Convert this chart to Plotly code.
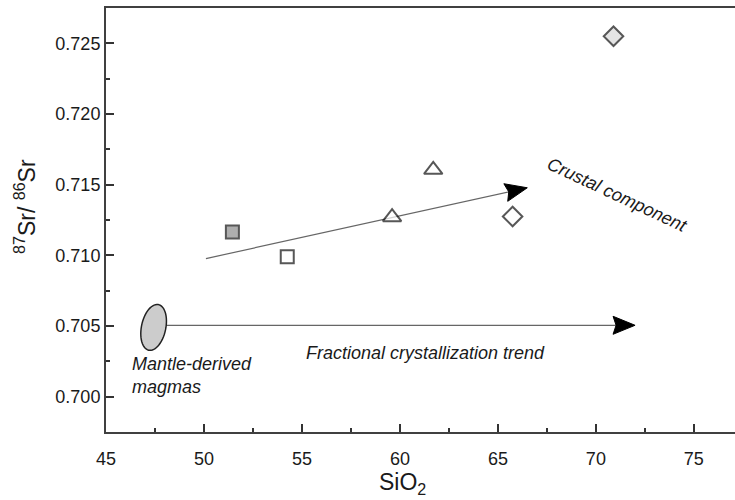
import plotly.graph_objects as go
import numpy as np

# ---- data ----
sio2 = [70.9, 51.45, 54.25, 59.6, 61.7, 65.75]
sr_ratio = [0.72550, 0.71165, 0.70990, 0.71270, 0.71605, 0.71275]
symbols = ["diamond", "square", "square", "triangle-up", "triangle-up", "diamond"]
fills = ["#d9d9d9", "#8c8c8c", "#ffffff", "#ffffff", "#ffffff", "#ffffff"]
sizes = [15, 13, 13, 16, 16, 15]

crust_arrow_x = [50.1, 66.5]
crust_arrow_y = [0.70977, 0.71478]
fc_arrow_x = [48.1, 72.0]
fc_arrow_y = [0.70505, 0.70505]

# mantle ellipse: center, half-axes
ell_cx, ell_cy = 47.43, 0.70490
ell_a, ell_b = 0.62, 0.00165

x_ticks = [45, 50, 55, 60, 65, 70, 75]
x_minor = [47.5, 52.5, 57.5, 62.5, 67.5, 72.5, 77.5]
y_ticks = [0.700, 0.705, 0.710, 0.715, 0.720, 0.725]
y_minor = [0.7025, 0.7075, 0.7125, 0.7175, 0.7225]

FONT = "Liberation Sans, Arial, sans-serif"
X_RANGE = [45, 77.1]
Y_RANGE = [0.6975, 0.7275]
W, H = 735, 500
M = dict(l=106, r=0, t=8, b=68)
PW = W - M["l"] - M["r"]
PH = H - M["t"] - M["b"]
xs_px = PW / (X_RANGE[1] - X_RANGE[0])
ys_px = PH / (Y_RANGE[1] - Y_RANGE[0])

fig = go.Figure()

# ellipse (slightly tilted)
t = np.linspace(0, 2 * np.pi, 60)
ang = np.deg2rad(-12)
ex = ell_a * xs_px * np.cos(t)
ey = ell_b * ys_px * np.sin(t)
rx = ex * np.cos(ang) - ey * np.sin(ang)
ry = ex * np.sin(ang) + ey * np.cos(ang)
px = ell_cx + rx / xs_px
py = ell_cy + ry / ys_px
path = "M " + " L ".join(f"{a},{b}" for a, b in zip(px, py)) + " Z"
fig.add_shape(type="path", path=path, xref="x", yref="y",
              fillcolor="#cccccc", line=dict(color="#222222", width=1.5))

# arrows: gray lines + black filled heads
HEAD_L, HEAD_W, NOTCH = 22, 18, 3
for ax_, ay_ in [(crust_arrow_x, crust_arrow_y), (fc_arrow_x, fc_arrow_y)]:
    fig.add_trace(go.Scatter(
        x=[ax_[0], ax_[1] - (ax_[1] - ax_[0]) * 0.02], y=[ay_[0], ay_[1] - (ay_[1] - ay_[0]) * 0.02],
        mode="lines", line=dict(color="#666666", width=1.2),
        hoverinfo="skip", showlegend=False))
    dxp = (ax_[1] - ax_[0]) * xs_px
    dyp = (ay_[1] - ay_[0]) * ys_px  # upward-positive pixel coords
    n = (dxp ** 2 + dyp ** 2) ** 0.5
    ux, uy = dxp / n, dyp / n
    nx, ny = -uy, ux
    pts_px = [(0, 0),
              (-HEAD_L * ux + HEAD_W / 2 * nx, -HEAD_L * uy + HEAD_W / 2 * ny),
              (-(HEAD_L - NOTCH) * ux, -(HEAD_L - NOTCH) * uy),
              (-HEAD_L * ux - HEAD_W / 2 * nx, -HEAD_L * uy - HEAD_W / 2 * ny)]
    pts = [(ax_[1] + a / xs_px, ay_[1] + b / ys_px) for a, b in pts_px]
    hp = "M " + " L ".join(f"{a},{b}" for a, b in pts) + " Z"
    fig.add_shape(type="path", path=hp, xref="x", yref="y",
                  fillcolor="#000000", line=dict(color="#000000", width=1))

fig.add_trace(go.Scatter(
    x=sio2, y=sr_ratio, mode="markers",
    marker=dict(symbol=symbols, size=sizes, color=fills,
                line=dict(color="#111111", width=2)),
    showlegend=False))

fig.add_annotation(x=46.2, y=0.70150, xref="x", yref="y", xanchor="left",
                   text="<i>Mantle-derived<br>magmas</i>", showarrow=False,
                   align="left", font=dict(family=FONT, size=18, color="#1a1a1a"))
fig.add_annotation(x=61.33, y=0.70309, xref="x", yref="y",
                   text="<i>Fractional crystallization trend</i>", showarrow=False,
                   font=dict(family=FONT, size=18, color="#1a1a1a"))
fig.add_annotation(x=71.1, y=0.71424, xref="x", yref="y",
                   text="<i>Crustal component</i>", showarrow=False, textangle=25,
                   font=dict(family=FONT, size=18, color="#1a1a1a"))

# axis titles placed as in the reference
fig.add_annotation(x=(25 - M["l"]) / PW, y=(M["t"] + PH - 207) / PH,
                   xref="paper", yref="paper", textangle=-90, showarrow=False,
                   xanchor="center", yanchor="middle",
                   text="<sup>87</sup>Sr/ <sup>86</sup>Sr",
                   font=dict(family=FONT, size=23, color="#1a1a1a"))
fig.add_annotation(x=(402 - M["l"]) / PW, y=(M["t"] + PH - 483) / PH,
                   xref="paper", yref="paper", showarrow=False,
                   xanchor="center", yanchor="middle",
                   text="SiO<sub>2</sub>",
                   font=dict(family=FONT, size=23, color="#1a1a1a"))

tick_style = dict(ticks="inside", ticklen=8, tickwidth=1.5, tickcolor="#333333")
fig.update_layout(
    width=W, height=H,
    margin=M,
    plot_bgcolor="white", paper_bgcolor="white",
    font=dict(family=FONT, color="#1a1a1a"),
    xaxis=dict(range=X_RANGE, tickvals=x_ticks, **tick_style,
               minor=dict(tickvals=x_minor, ticks="inside", ticklen=4,
                          tickwidth=1.5, tickcolor="#333333"),
               showline=True, linecolor="#404040", linewidth=2, mirror=True,
               showgrid=False, zeroline=False, ticklabelstandoff=9,
               tickfont=dict(size=18)),
    yaxis=dict(range=Y_RANGE, tickvals=y_ticks, tickformat=".3f", **tick_style,
               minor=dict(tickvals=y_minor, ticks="inside", ticklen=4,
                          tickwidth=1.5, tickcolor="#333333"),
               showline=True, linecolor="#404040", linewidth=2,
               showgrid=False, zeroline=False,
               tickfont=dict(size=18)),
)

fig.write_html("out.html")
